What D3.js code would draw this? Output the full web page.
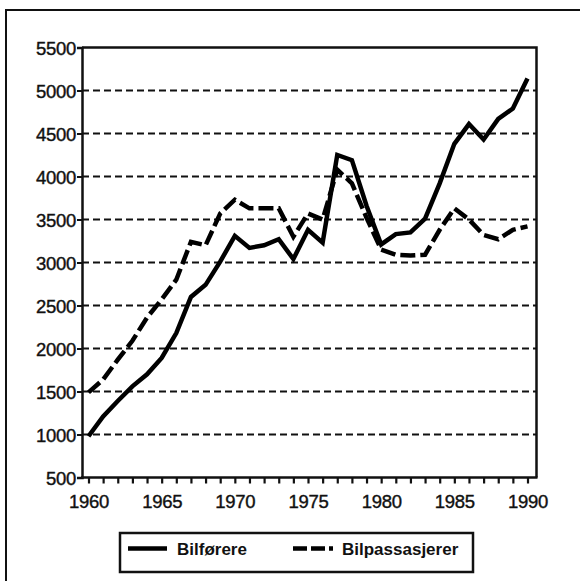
<!DOCTYPE html>
<html>
<head>
  <meta charset="utf-8">
  <title>Bilførere og bilpassasjerer</title>
  <style>
    body { margin: 0; background: #fff; }
    svg { display: block; }
    text { font-family: "Liberation Sans", Arial, sans-serif; fill: #111; }
  </style>
</head>
<body>
  <div id="chart"></div>

  <script src="https://cdn.jsdelivr.net/npm/d3@7"></script>
  <script>
    // data
    let years = d3.range(1960, 1991);
    let bilforere = [980, 1210, 1390, 1560, 1700, 1890, 2180, 2600, 2740, 3010,
                     3310, 3170, 3200, 3270, 3040, 3380, 3230, 4250, 4190, 3660,
                     3210, 3330, 3350, 3510, 3920, 4380, 4610, 4430, 4670, 4790, 5140];
    let bilpassasjerer = [1490, 1640, 1870, 2090, 2360, 2570, 2800, 3240, 3200, 3570,
                          3730, 3630, 3630, 3630, 3300, 3570, 3500, 4080, 3920, 3520,
                          3150, 3090, 3080, 3090, 3380, 3630, 3500, 3320, 3270, 3380, 3420];
    let yTicks = [500, 1000, 1500, 2000, 2500, 3000, 3500, 4000, 4500, 5000, 5500];
    let xLabels = [1960, 1965, 1970, 1975, 1980, 1985, 1990];
    let seriesNames = ['Bilførere', 'Bilpassasjerer'];

    function translate(x, y) {
      return 'translate(' + x + ',' + y + ')';
    }

    let svgWidth = 580, svgHeight = 581;
    let plot = {left: 82, right: 536.5, top: 47.5, bottom: 477.5};

    let svg = d3.select('#chart')
      .append('svg')
        .attr('width', svgWidth)
        .attr('height', svgHeight);

    // outer frame (runs off the right / bottom of the picture)
    svg.append('path')
      .attr('d', 'M6,' + (svgHeight + 5) + 'V10H' + (svgWidth + 5))
      .attr('fill', 'none')
      .attr('stroke', '#111')
      .attr('stroke-width', 2);

    let x = d3.scaleLinear()
      .domain([1960, 1990])
      .range([88.5, 527.5]);

    let y = d3.scaleLinear()
      .domain([500, 5500])
      .range([plot.bottom, plot.top]);

    // dashed gridlines
    svg.append('g')
      .selectAll('line')
      .data(yTicks.filter(d => d > 500 && d < 5500))
      .enter()
        .append('line')
        .attr('x1', plot.left)
        .attr('x2', plot.right)
        .attr('y1', d => y(d))
        .attr('y2', d => y(d))
        .attr('stroke', '#111')
        .attr('stroke-width', 2.2)
        .attr('stroke-dasharray', '7,4');

    // plot box: top, right
    svg.append('path')
      .attr('d', 'M' + plot.left + ',' + y(5500) + 'H' + plot.right + 'V' + plot.bottom)
      .attr('fill', 'none')
      .attr('stroke', '#111')
      .attr('stroke-width', 2.5);

    // y axis
    let yAxis = d3.axisLeft(y)
      .tickValues(yTicks)
      .tickSize(5)
      .tickPadding(1)
      .tickFormat(d3.format('d'));

    svg.append('g')
      .attr('transform', translate(plot.left, 0))
      .call(yAxis)
      .call(g => g.select('.domain').attr('stroke', '#111').attr('stroke-width', 2.5))
      .call(g => g.selectAll('.tick line').attr('stroke', '#111').attr('stroke-width', 2))
      .call(g => g.selectAll('.tick text')
        .attr('font-size', 18.5)
        .attr('font-family', '"Liberation Sans", Arial, sans-serif')
        .attr('fill', '#111')
        .attr('stroke', '#111')
        .attr('stroke-width', 0.4)
        .attr('letter-spacing', -0.3)
        .attr('dy', '0.36em'));

    // x axis: yearly ticks, labels every 5 years
    let xAxis = d3.axisBottom(x)
      .tickValues(years)
      .tickSize(6)
      .tickPadding(11)
      .tickFormat(d => xLabels.includes(d) ? d : '');

    svg.append('g')
      .attr('transform', translate(0, plot.bottom))
      .call(xAxis)
      .call(g => g.select('.domain').remove())
      .call(g => g.selectAll('.tick line').attr('stroke', '#111').attr('stroke-width', 2.2))
      .call(g => g.selectAll('.tick text')
        .attr('font-size', 18.5)
        .attr('font-family', '"Liberation Sans", Arial, sans-serif')
        .attr('fill', '#111')
        .attr('stroke', '#111')
        .attr('stroke-width', 0.4)
        .attr('letter-spacing', -0.3));

    svg.append('line')
      .attr('x1', plot.left - 1)
      .attr('x2', plot.right + 1)
      .attr('y1', plot.bottom)
      .attr('y2', plot.bottom)
      .attr('stroke', '#111')
      .attr('stroke-width', 2.5);

    // lines
    let line = d3.line()
      .x((d, i) => x(years[i]))
      .y(d => y(d));

    let styles = [
      {data: bilforere, dash: null},
      {data: bilpassasjerer, dash: '15,5'}
    ];

    svg.append('g')
      .selectAll('path')
      .data(styles)
      .enter()
        .append('path')
        .attr('d', d => line(d.data))
        .attr('fill', 'none')
        .attr('stroke', '#000')
        .attr('stroke-width', 4.5)
        .attr('stroke-linejoin', 'miter')
        .attr('stroke-dasharray', d => d.dash);

    // legend
    let legend = svg.append('g').attr('transform', translate(120, 533));

    legend.append('rect')
      .attr('width', 353)
      .attr('height', 39)
      .attr('fill', 'none')
      .attr('stroke', '#111')
      .attr('stroke-width', 2.5);

    let items = legend.selectAll('g.item')
      .data(seriesNames)
      .enter()
        .append('g')
        .attr('class', 'item')
        .attr('transform', (d, i) => translate(i === 0 ? 8 : 173, 15.5));

    items.append('line')
      .attr('x1', 0)
      .attr('x2', (d, i) => i === 0 ? 39 : 40)
      .attr('stroke', '#000')
      .attr('stroke-width', 4.5)
      .attr('stroke-dasharray', (d, i) => i === 0 ? null : '14,4');

    items.append('text')
      .attr('x', 49)
      .attr('dy', '0.36em')
      .attr('font-size', 17)
      .attr('font-weight', 'bold')
      .text(d => d);
  </script>
</body>
</html>
